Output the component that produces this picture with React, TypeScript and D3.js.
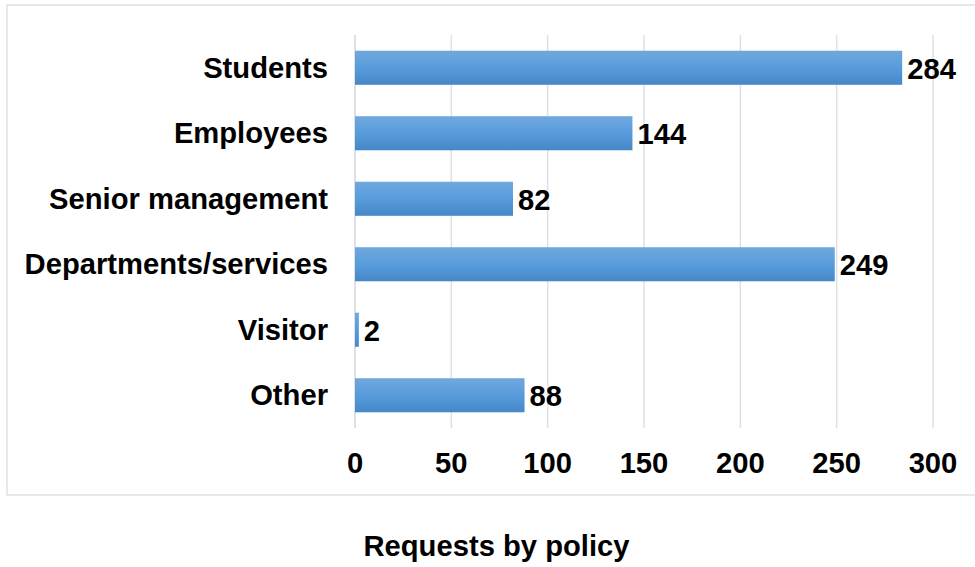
import React from "react";
import * as d3 from "d3";

const categories = ["Students", "Employees", "Senior management", "Departments/services", "Visitor", "Other"];
const requests = [284, 144, 82, 249, 2, 88];
const xTicks = [0, 50, 100, 150, 200, 250, 300];
const axisTitle = "Requests by policy";

const W = 975;
const H = 567;
const plot = { left: 355, right: 933, top: 35, bottom: 428 };
const FONT = "'Liberation Sans', Arial, sans-serif";
const FS = 29.2;

export default function App() {
  const x = d3.scaleLinear().domain([0, 300]).range([plot.left, plot.right]);
  const y = d3
    .scaleBand<string>()
    .domain(categories)
    .range([plot.top, plot.bottom])
    .paddingInner(0.48)
    .paddingOuter(0.24);

  return (
    <svg
      width={W}
      height={H}
      style={{ position: "absolute", left: 0, top: 0, background: "#fff" }}
      fontFamily={FONT}
    >
      <defs>
        <linearGradient id="barFill" x1="0" y1="0" x2="0" y2="1">
          <stop offset="0%" stopColor="#70a8dd" />
          <stop offset="50%" stopColor="#589cdc" />
          <stop offset="100%" stopColor="#4587c7" />
        </linearGradient>
      </defs>
      <rect x={7} y={5} width={W} height={490} fill="none" stroke="#dde1e6" strokeWidth={1.5} />
      {xTicks.map((t) => (
        <line
          key={t}
          x1={x(t)}
          x2={x(t)}
          y1={plot.top}
          y2={plot.bottom}
          stroke="#dde1e7"
          strokeWidth={t === 0 ? 2 : 1.5}
        />
      ))}
      {categories.map((c, i) => {
        const yy = y(c)!;
        const bw = y.bandwidth();
        const v = requests[i];
        return (
          <g key={c}>
            <rect x={x(0)} y={yy} width={x(v) - x(0)} height={bw} fill="url(#barFill)" />
            <text
              x={plot.left - 27}
              y={yy + bw / 2}
              textAnchor="end"
              dominantBaseline="central"
              fontWeight="bold"
              fontSize={FS}
              fill="#000"
            >
              {c}
            </text>
            <text
              x={x(v) + 5}
              y={yy + bw / 2 + 1}
              textAnchor="start"
              dominantBaseline="central"
              fontWeight="bold"
              fontSize={FS}
              fill="#000"
            >
              {v}
            </text>
          </g>
        );
      })}
      {xTicks.map((t) => (
        <text
          key={t}
          x={x(t)}
          y={473}
          textAnchor="middle"
          fontWeight="bold"
          fontSize={FS}
          fill="#000"
        >
          {t}
        </text>
      ))}
      <text
        x={(365 + 628) / 2}
        y={556}
        textAnchor="middle"
        fontWeight="bold"
        fontSize={FS}
        fill="#000"
      >
        {axisTitle}
      </text>
    </svg>
  );
}
